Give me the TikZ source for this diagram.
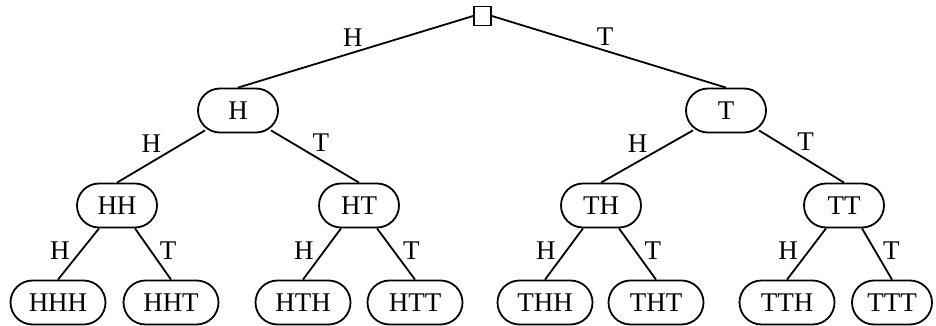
\documentclass[tikz,border=0pt]{standalone}
\usepackage{fontspec}
\setmainfont{Liberation Serif}
\usetikzlibrary{calc}
\begin{document}
\begin{tikzpicture}[x=1pt,y=-1pt,
  every node/.style={font=\fontsize{27}{30}\selectfont},
  outcome/.style={draw, line width=1.8pt, rounded corners=22pt,
    minimum height=44pt, inner sep=0pt},
  mid/.style={outcome, minimum width=80pt},
  leaf/.style={outcome, minimum width=95pt},
  start/.style={draw, line width=1.8pt, minimum width=17pt,
    minimum height=19pt, inner sep=0pt},
  link/.style={line width=1.8pt},
  hlab/.style={above left, inner sep=1.5pt},
  tlab/.style={above right, inner sep=1pt},
]
\useasboundingbox (0,0) rectangle (936,326);

% root
\node[start] (root) at (482.5,16) {};

% first toss
\node[mid] (H) at (238,110.5) {H};
\node[mid] (T) at (726,110.5) {T};

% second toss
\node[mid] (HH) at (117,205.5) {HH};
\node[mid] (HT) at (359,205.5) {HT};
\node[mid] (TH) at (601,205.5) {TH};
\node[mid] (TT) at (844,205.5) {TT};

% third toss
\node[leaf] (HHH) at (58,302.5) {HHH};
\node[leaf] (HHT) at (171,302.5) {HHT};
\node[leaf] (HTH) at (303,302.5) {HTH};
\node[leaf] (HTT) at (415,302.5) {HTT};
\node[leaf] (THH) at (545,302.5) {THH};
\node[leaf] (THT) at (656,302.5) {THT};
\node[leaf] (TTH) at (787,302.5) {TTH};
\node[leaf, minimum width=80pt] (TTT) at (892,302.5) {TTT};

% branches from the root
\draw[link] (root.west) -- node[hlab, pos=0.46] {H} (H.north);
\draw[link] (root.east) -- node[tlab, pos=0.44] {T} (T.north);

% branches after the first toss
\draw[link] ($(H.south)+(-33,-3)$) -- node[hlab, pos=0.47] {H} (HH.north);
\draw[link] ($(H.south)+(33,-3)$) -- node[tlab, pos=0.45] {T} (HT.north);
\draw[link] ($(T.south)+(-33,-3)$) -- node[hlab, pos=0.47] {H} (TH.north);
\draw[link] ($(T.south)+(33,-3)$) -- node[tlab, pos=0.43] {T} (TT.north);

% branches after the second toss
\foreach \p/\a/\b in {HH/HHH/HHT, HT/HTH/HTT, TH/THH/THT, TT/TTH/TTT}{
  \draw[link] ($(\p.south)+(-18,0)$) -- node[hlab, pos=0.66] {H} (\a.north);
  \draw[link] ($(\p.south)+(18,0)$) -- node[tlab, pos=0.64] {T} (\b.north);
}
\end{tikzpicture}
\end{document}
